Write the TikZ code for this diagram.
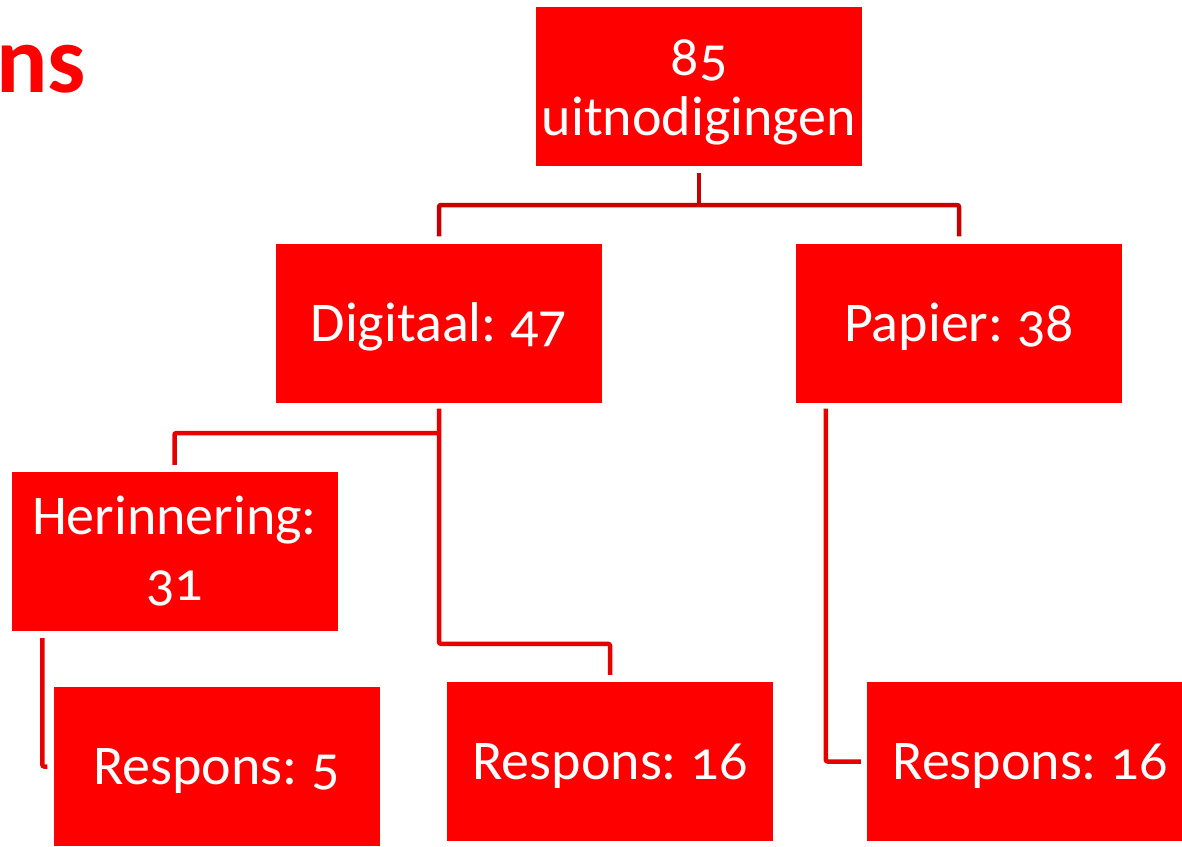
\documentclass[tikz,border=0pt]{standalone}
\usepackage{fontspec}
\setmainfont{Carlito}[Numbers=OldStyle, WordSpace=0.75]
\begin{document}
\begin{tikzpicture}[x=1pt,y=-1pt,
  box/.style={fill=boxred, draw=none, minimum width=326pt, minimum height=159pt, inner sep=0pt,
    text=white, align=center, font=\fontsize{56}{60}\selectfont},
  oneline/.style={text height=46pt, text depth=10pt},
  topline/.style={draw=lineDark, line width=4.5pt, rounded corners=2pt},
  subline/.style={draw=lineRed, line width=4.5pt, rounded corners=2pt}]
\definecolor{boxred}{RGB}{255,0,0}
\definecolor{lineDark}{RGB}{200,0,0}
\definecolor{lineRed}{RGB}{230,0,0}
\useasboundingbox (0,0) rectangle (1182,846);
\clip (0,0) rectangle (1182,846);
% title fragment
\node[anchor=base west, inner sep=0pt, text=boxred, font=\fontsize{96}{100}\selectfont\bfseries] (title) at (-4,92) {ns};
% boxes
\node[box, text height=110pt, text depth=12pt] (top) at (699,86.5) {85\\[0pt]uitnodigingen};
\node[box, oneline] (dig) at (439,323) {Digitaal: 47};
\node[box, oneline] (pap) at (959,323) {Papier: 38};
\node[box] (her) at (174.5,551.5) {Herinnering:\\[6pt]31};
\node[box, oneline] (r5) at (216.5,766.5) {Respons: 5};
\node[box, oneline] (r16a) at (610,761.5) {Respons: 16};
\node[box, oneline] (r16b) at (1030,761.5) {Respons: 16};
% connectors
\coordinate (j1) at (699,205);
\coordinate (j2) at (439,433);
\draw[topline] ([yshift=-7pt]top.south) -- (j1);
\draw[topline] ([yshift=7pt]dig.north) |- (j1) -| ([yshift=7pt]pap.north);
\draw[subline] ([yshift=-6pt]dig.south) |- ([yshift=38pt]r16a.north) -- ([yshift=7pt]r16a.north);
\draw[subline] (j2) -| ([yshift=7pt]her.north);
\draw[subline] ([xshift=31pt,yshift=-7pt]her.south west) |- ([xshift=-6pt]r5.west);
\draw[subline] ([xshift=30pt,yshift=-6pt]pap.south west) |- ([xshift=-6pt]r16b.west);
\end{tikzpicture}
\end{document}
